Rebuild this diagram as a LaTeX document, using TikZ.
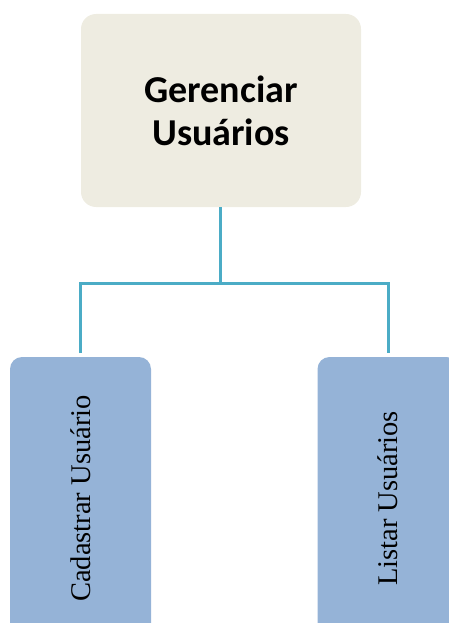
\documentclass[tikz,border=0pt]{standalone}
\usepackage{fontspec}
\setmainfont{Liberation Serif}
\newfontfamily\hfont{Carlito}
\definecolor{topfill}{RGB}{238,236,225}
\definecolor{subfill}{RGB}{149,179,215}
\definecolor{linkcol}{RGB}{75,172,198}
\begin{document}
\begin{tikzpicture}[x=1pt,y=-1pt,
  topbox/.style={draw=none,fill=topfill,rounded corners=15pt,minimum width=280pt,minimum height=193pt,inner sep=0pt,align=center,
    font=\hfont\bfseries\fontsize{38}{43}\selectfont},
  subbox/.style={draw=none,fill=subfill,rounded corners=12pt,minimum width=141pt,minimum height=283pt,inner sep=0pt},
  sublabel/.style={rotate=90,font=\fontsize{28.5}{32}\selectfont,inner sep=0pt},
  link/.style={draw=linkcol,line width=3pt}]
\useasboundingbox (0,0) rectangle (449,623);
\clip (0,0) rectangle (449,623);
\node[topbox] (top) at (221,110.5) {Gerenciar\\Usuários};
\node[subbox] (left) at (80.5,498.5) {};
\node[subbox] (right) at (388,498.5) {};
\node[sublabel] (ltext) at (left.center) {Cadastrar Usuário};
\node[sublabel] (rtext) at (right.center) {Listar Usuários};
\coordinate (j) at (220,283);
\coordinate (lj) at (80,353);
\coordinate (rj) at (388,353);
\draw[link] (220,207) -- (j);
\draw[link] (lj) |- (j) -| (rj);
\end{tikzpicture}
\end{document}
